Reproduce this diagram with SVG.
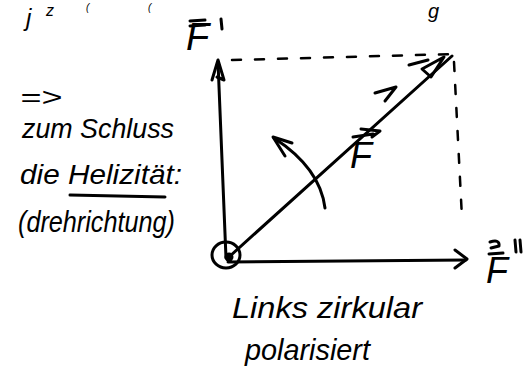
<svg xmlns="http://www.w3.org/2000/svg" width="525" height="374" viewBox="0 0 525 374">
<style>
.s{fill:none;stroke:#000;stroke-width:3;stroke-linecap:round;stroke-linejoin:round}
.d{fill:none;stroke:#000;stroke-width:2.5;stroke-linecap:round;stroke-dasharray:9 14}
.t{font-family:"Liberation Sans","DejaVu Sans",sans-serif;font-style:italic;fill:#000}
</style>
<rect width="525" height="374" fill="#fff"/>
<g id="top-fragments">
<text class="t" x="26" y="26" font-size="24">j</text>
<text class="t" x="46" y="16" font-size="16">z</text>
<text class="t" x="86" y="11" font-size="10">(</text>
<text class="t" x="148" y="11" font-size="10">(</text>
<text class="t" x="428" y="18" font-size="20">g</text>
</g>
<g id="connectors">
<path id="axis-v" class="s" d="M226,258 L218,62"/>
<path class="s" d="M212,80 L218,60 L224,80 L217,77"/>
<path id="axis-h" class="s" d="M228,262 L466,260"/>
<path class="s" d="M455,250 L467,259 L455,268"/>
<path class="d" d="M232,60 L455,54"/>
<path class="d" d="M454,62 L462,218"/>
<path id="vec-F" class="s" d="M230,256 L452,56"/>
<path class="s" d="M422,69 L444,57 L431,77 Z"/>
<path class="s" d="M409,65 L428,60"/>
<path class="s" d="M375,93 L396,87 L385,101"/>
<path id="rot" class="s" d="M325,208 Q320,168 274,138"/>
<path class="s" d="M285,156 L273,137 L292,143"/>
<ellipse class="s" cx="226" cy="255" rx="14" ry="13"/>
<circle cx="229" cy="257" r="4.5" fill="#000"/>
</g>
<g id="label-F1">
<text class="t" x="186" y="50" font-size="38" font-style="normal">F</text>
<path class="s" d="M190,21 L205,20 M190,26 L205,25" stroke-width="2.5"/>
<path class="s" d="M221,19 L222,29" stroke-width="2.5"/>
</g>
<g id="label-F2">
<text class="t" x="486" y="283" font-size="36" font-style="normal">F</text>
<path class="s" d="M490,242 Q500,239 499,246 L491,248 M489,254 L503,253" stroke-width="2.5"/>
<path class="s" d="M515,240 L516,252 M520,240 L521,252" stroke-width="2.5"/>
</g>
<g id="label-F">
<text class="t" x="350" y="168" font-size="36" font-style="normal">F</text>
<path class="s" d="M353,137 L373,134 M361,129 L380,131 L372,137" stroke-width="2.5"/>
</g>
<g id="left-text">
<text class="t" x="20" y="106" font-size="26" textLength="42" lengthAdjust="spacingAndGlyphs">=&gt;</text>
<text class="t" x="22" y="138" font-size="28" textLength="152" lengthAdjust="spacingAndGlyphs">zum Schluss</text>
<text class="t" x="20" y="184" font-size="28" textLength="162" lengthAdjust="spacingAndGlyphs">die Helizität:</text>
<path class="s" d="M70,195 L165,197"/>
<text class="t" x="18" y="232" font-size="30" textLength="157" lengthAdjust="spacingAndGlyphs">(drehrichtung)</text>
</g>
<g id="bottom-text">
<text class="t" x="232" y="318" font-size="30" textLength="190" lengthAdjust="spacingAndGlyphs">Links zirkular</text>
<text class="t" x="245" y="360" font-size="30" textLength="125" lengthAdjust="spacingAndGlyphs">polarisiert</text>
</g>
</svg>
